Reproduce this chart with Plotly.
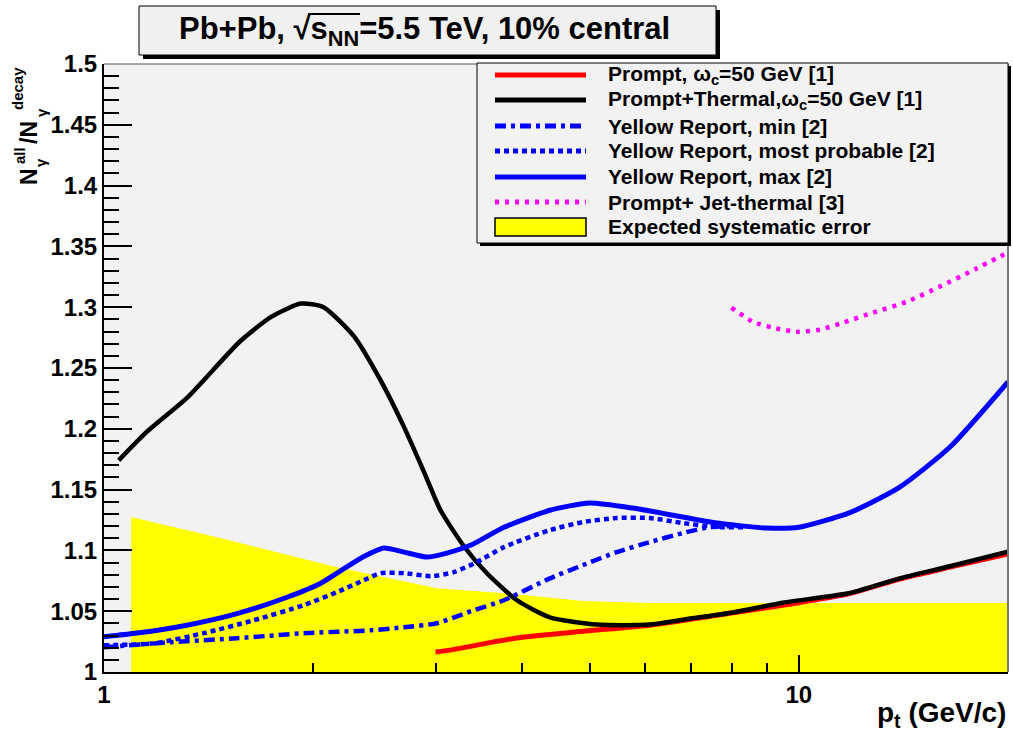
import math
import plotly.graph_objects as go

# ---- data: N_gamma^all / N_gamma^decay vs p_t (GeV/c) ----
pt_prompt = [3.0, 3.15, 3.93, 4.89, 6.1, 7.62, 9.48, 11.84, 13.97, 16.5, 20.0]
ratio_prompt = [1.0165, 1.018, 1.028, 1.0335, 1.0385, 1.0467, 1.0549, 1.0645, 1.0765, 1.0862, 1.097]

pt_thermal = [1.05, 1.15, 1.32, 1.57, 1.74, 1.92, 2.07, 2.29, 2.50, 2.70, 2.89, 3.05, 3.30,
              3.56, 3.93, 4.38, 5.12, 6.1, 6.81, 8.04, 9.48, 11.84, 13.97, 16.5, 20.0]
ratio_thermal = [1.174, 1.197, 1.226, 1.272, 1.292, 1.303, 1.300, 1.276, 1.240, 1.202, 1.164,
                 1.133, 1.103, 1.081, 1.059, 1.045, 1.039, 1.039, 1.043, 1.049, 1.057, 1.065,
                 1.077, 1.087, 1.099]

pt_yr_min = [1.0, 1.248, 1.554, 1.94, 2.423, 2.702, 3.014, 3.375, 3.763, 4.382, 4.89, 5.47,
             6.1, 6.81, 7.45, 8.2]
ratio_yr_min = [1.0203, 1.0245, 1.0278, 1.0319, 1.0343, 1.0368, 1.0401, 1.0500, 1.0590, 1.077,
                1.0879, 1.0986, 1.1068, 1.1143, 1.1192, 1.120]

pt_yr_prob = [1.0, 1.18, 1.393, 1.644, 1.94, 2.164, 2.366, 2.503, 2.702, 2.954, 3.188, 3.44,
              3.763, 4.382, 4.89, 5.47, 6.1, 6.81, 7.62, 8.4]
ratio_yr_prob = [1.022, 1.0236, 1.032, 1.0426, 1.055, 1.0657, 1.0755, 1.0813, 1.0813, 1.0788,
                 1.0821, 1.0904, 1.1027, 1.1167, 1.1233, 1.1266, 1.1266, 1.1225, 1.1192, 1.119]

pt_yr_max = [1.0, 1.116, 1.316, 1.554, 1.834, 2.052, 2.215, 2.366, 2.528, 2.702, 2.915, 3.115,
             3.375, 3.763, 4.382, 5.0, 5.77, 6.81, 7.62, 8.99, 10.0, 11.84, 13.97, 16.5, 20.0]
ratio_yr_max = [1.029, 1.032, 1.0385, 1.048, 1.0615, 1.073, 1.085, 1.095, 1.102, 1.0986, 1.0945,
                1.0978, 1.1044, 1.119, 1.133, 1.139, 1.1348, 1.1274, 1.1225, 1.1184, 1.119,
                1.131, 1.152, 1.185, 1.2386]

pt_jet = [8.0, 8.59, 9.18, 9.93, 10.72, 11.57, 12.78, 14.3, 15.95, 17.9, 20.0]
ratio_jet = [1.2996, 1.288, 1.2831, 1.2798, 1.2815, 1.2872, 1.2955, 1.3045, 1.3169, 1.331, 1.345]

pt_sys = [1.094, 1.5, 2.164, 3.014, 3.763, 4.89, 6.1, 20.0]
ratio_sys = [1.1274, 1.109, 1.0862, 1.0689, 1.0648, 1.0584, 1.0568, 1.0568]

y_ticks = [1.0, 1.05, 1.1, 1.15, 1.2, 1.25, 1.3, 1.35, 1.4, 1.45, 1.5]
y_ticktext = ["1", "1.05", "1.1", "1.15", "1.2", "1.25", "1.3", "1.35", "1.4", "1.45", "1.5"]
x_ticks = [1, 10]
x_ticktext = ["1", "10"]
x_minor = [2, 3, 4, 5, 6, 7, 8, 9, 20]

legend_entries = [
    ("Prompt, ω<sub>c</sub>=50 GeV [1]", "red", "solid"),
    ("Prompt+Thermal,ω<sub>c</sub>=50 GeV [1]", "black", "solid"),
    ("Yellow Report, min [2]", "blue", "11px,5px,4px,5px"),
    ("Yellow Report, most probable [2]", "blue", "5px,4px"),
    ("Yellow Report, max [2]", "blue", "solid"),
    ("Prompt+ Jet-thermal [3]", "magenta", "4px,6px"),
    ("Expected systematic error", "yellow", "box"),
]

# ---- canvas geometry (pixels) ----
W, H = 1013, 737
L, R, T, B = 104, 5, 64, 65
PW, PH = W - L - R, H - T - B
FONT = "Liberation Sans, Arial, Helvetica, sans-serif"


def fx(p):
    return (p - L) / PW


def fy(p):
    return (H - B - p) / PH


fig = go.Figure()

fig.add_trace(go.Scatter(x=pt_sys, y=ratio_sys, mode="lines", fill="tozeroy",
                         fillcolor="#ffff00", line=dict(width=0, color="#ffff00")))
fig.add_trace(go.Scatter(x=pt_prompt, y=ratio_prompt, mode="lines",
                         line=dict(color="red", width=5, shape="spline", smoothing=0.6)))
fig.add_trace(go.Scatter(x=pt_thermal, y=ratio_thermal, mode="lines",
                         line=dict(color="black", width=4.5, shape="spline", smoothing=0.6)))
fig.add_trace(go.Scatter(x=pt_yr_min, y=ratio_yr_min, mode="lines",
                         line=dict(color="blue", width=4.5, dash="11px,5px,4px,5px", shape="spline", smoothing=0.6)))
fig.add_trace(go.Scatter(x=pt_yr_prob, y=ratio_yr_prob, mode="lines",
                         line=dict(color="blue", width=4.5, dash="5px,4px", shape="spline", smoothing=0.6)))
fig.add_trace(go.Scatter(x=pt_yr_max, y=ratio_yr_max, mode="lines",
                         line=dict(color="blue", width=5, shape="spline", smoothing=0.6)))
fig.add_trace(go.Scatter(x=pt_jet, y=ratio_jet, mode="lines",
                         line=dict(color="magenta", width=4.5, dash="4px,6px", shape="spline", smoothing=0.6)))

shapes = []
annotations = []

# frame: top and right edges
shapes.append(dict(type="line", xref="paper", yref="paper", x0=0, x1=1, y0=1, y1=1,
                   line=dict(color="#555555", width=1)))
shapes.append(dict(type="line", xref="paper", yref="paper", x0=1, x1=1, y0=0, y1=1,
                   line=dict(color="#777777", width=2)))

# title box with drop shadow
shapes.append(dict(type="rect", xref="paper", yref="paper", x0=fx(143), x1=fx(720), y0=fy(59), y1=fy(10),
                   fillcolor="black", line=dict(width=0)))
shapes.append(dict(type="rect", xref="paper", yref="paper", x0=fx(139), x1=fx(716), y0=fy(55), y1=fy(6),
                   fillcolor="#f0f0f0", line=dict(color="black", width=1)))
annotations.append(dict(xref="paper", yref="paper", x=fx(424), y=fy(31), xanchor="center", yanchor="middle",
                        text="Pb+Pb, √s<sub>NN</sub>=5.5 TeV, 10% central", showarrow=False,
                        font=dict(family=FONT, size=31, color="black", weight="bold")))
shapes.append(dict(type="line", xref="paper", yref="paper", x0=fx(308), x1=fx(360), y0=fy(14), y1=fy(14),
                   line=dict(color="black", width=2)))

# legend box with drop shadow
shapes.append(dict(type="rect", xref="paper", yref="paper", x0=fx(480), x1=fx(1011), y0=fy(246), y1=fy(66),
                   fillcolor="black", line=dict(width=0)))
shapes.append(dict(type="rect", xref="paper", yref="paper", x0=fx(477), x1=fx(1008), y0=fy(243), y1=fy(63),
                   fillcolor="#f2f2f2", line=dict(color="black", width=1)))
row_y = [75, 100, 126, 151, 177, 202, 227]
for (label, color, dash), ry in zip(legend_entries, row_y):
    if dash == "box":
        shapes.append(dict(type="rect", xref="paper", yref="paper", x0=fx(495), x1=fx(586),
                           y0=fy(ry + 9), y1=fy(ry - 9), fillcolor=color, line=dict(color="black", width=1.5)))
    else:
        shapes.append(dict(type="line", xref="paper", yref="paper", x0=fx(495), x1=fx(586),
                           y0=fy(ry), y1=fy(ry), line=dict(color=color, width=5, dash=dash)))
    annotations.append(dict(xref="paper", yref="paper", x=fx(606), y=fy(ry), xanchor="left", yanchor="middle",
                            text=label, showarrow=False,
                            font=dict(family=FONT, size=21, color="black", weight="bold")))

# y-axis title, built from pieces so the sub/superscripts stack
ytitle_parts = [
    ("N", 23, 29, 177),
    ("all", 15, 19, 156),
    ("γ", 15, 41, 163),
    ("/N", 23, 29, 133),
    ("decay", 15, 18, 89),
    ("γ", 15, 42, 113),
]
for txt, size, cx, cy in ytitle_parts:
    annotations.append(dict(xref="paper", yref="paper", x=fx(cx), y=fy(cy), xanchor="center", yanchor="middle",
                            text=txt, textangle=-90, showarrow=False,
                            font=dict(family=FONT, size=size, color="black", weight="bold")))

# x-axis title
annotations.append(dict(xref="paper", yref="paper", x=1.0, y=fy(714), xanchor="right", yanchor="middle",
                        text="p<sub>t</sub> (GeV/c)", showarrow=False,
                        font=dict(family=FONT, size=28, color="black", weight="bold")))

fig.update_layout(
    width=W, height=H,
    margin=dict(l=L, r=R, t=T, b=B),
    paper_bgcolor="white",
    plot_bgcolor="#f2f2f2",
    showlegend=False,
    font=dict(family=FONT, size=24, color="black", weight="bold"),
    shapes=shapes,
    annotations=annotations,
    xaxis=dict(type="log", range=[0, math.log10(20)], tickmode="array", tickvals=x_ticks, ticktext=x_ticktext,
               ticks="inside", ticklen=17, tickwidth=1.5, tickcolor="black",
               showline=True, linecolor="black", linewidth=2, showgrid=False, zeroline=False,
               tickfont=dict(size=24),
               minor=dict(tickmode="array", tickvals=x_minor, ticks="inside", ticklen=9,
                          tickwidth=1.5, tickcolor="black", showgrid=False)),
    yaxis=dict(range=[1.0, 1.5], tickmode="array", tickvals=y_ticks, ticktext=y_ticktext,
               ticks="inside", ticklen=28, tickwidth=1.5, tickcolor="black",
               showline=True, linecolor="black", linewidth=2, showgrid=False, zeroline=False,
               tickfont=dict(size=24),
               minor=dict(dtick=0.01, ticks="inside", ticklen=15, tickwidth=1.5, tickcolor="black",
                          showgrid=False)),
)

fig.write_html("out.html")
